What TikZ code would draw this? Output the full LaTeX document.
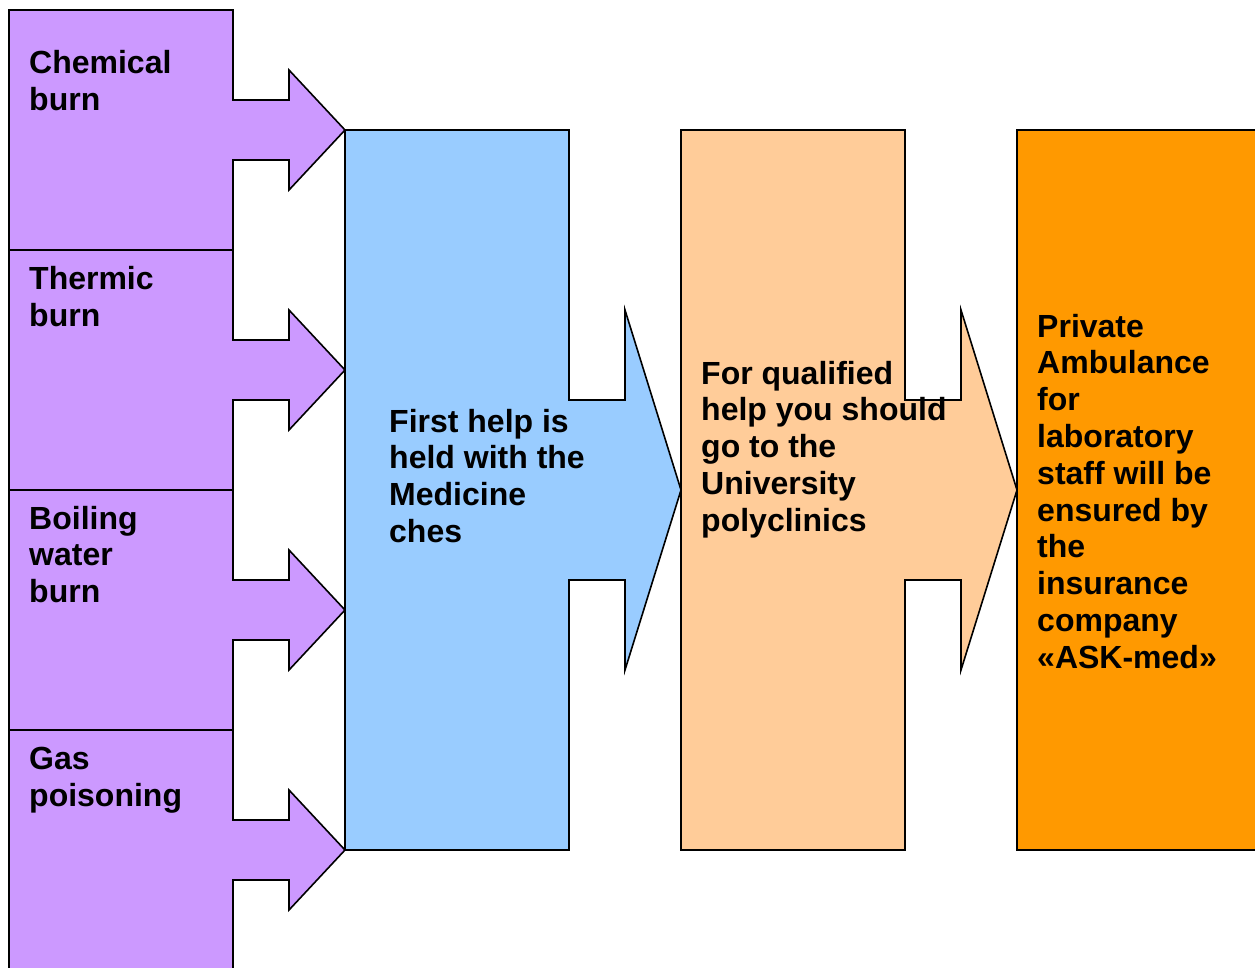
\documentclass[tikz,border=0pt]{standalone}
\usepackage{fontspec}
\setmainfont{Liberation Sans}
\definecolor{burnpurple}{HTML}{CC99FF}
\definecolor{helpblue}{HTML}{99CCFF}
\definecolor{qualpeach}{HTML}{FFCC99}
\definecolor{privorange}{HTML}{FF9900}
\tikzset{
  blockarrow/.style={draw=black, line width=1.6pt, line join=miter},
  % base of a multi-line node is its last line
  boxtext/.style={anchor=base west, inner sep=0pt, align=left,
    font=\fontsize{32}{36.8}\selectfont\bfseries}
}

\begin{document}
\begin{tikzpicture}[x=1pt,y=-1pt]
    \useasboundingbox (0,0) rectangle (1255,967);
    \clip (0,0) rectangle (1255,967);
    % four kinds of accident
    \foreach \t in {10,250,490,730} {
      \pgfmathsetmacro\ymid{\t+120}
      \draw[blockarrow, fill=burnpurple] (9,\t) -- (233,\t) -- (233,\ymid-30) -- (289,\ymid-30)
        -- (289,\ymid-60) -- (345,\ymid) -- (289,\ymid+60) -- (289,\ymid+30) -- (233,\ymid+30)
        -- (233,\t+240) -- (9,\t+240) -- cycle;
    }
    % first help
    \draw[blockarrow, fill=helpblue] (345,130) -- (569,130) -- (569,400) -- (625,400) -- (625,310)
      -- (681,490) -- (625,670) -- (625,580) -- (569,580) -- (569,850) -- (345,850) -- cycle;
    % qualified help
    \draw[blockarrow, fill=qualpeach] (681,130) -- (905,130) -- (905,400) -- (961,400) -- (961,310)
      -- (1017,490) -- (961,670) -- (961,580) -- (905,580) -- (905,850) -- (681,850) -- cycle;
    % ambulance
    \draw[blockarrow, fill=privorange] (1017,130) rectangle (1270,850);

    \node[boxtext] (chem)  at (29,110)   {Chemical\\burn};
    \node[boxtext] (therm) at (29,326)   {Thermic\\burn};
    \node[boxtext] (boil)  at (29,602.6) {Boiling\\water\\burn};
    \node[boxtext] (gas)   at (29,806)   {Gas\\poisoning};
    \node[boxtext] (first) at (389,542.4) {First help is\\held with the\\Medicine\\ches};
    \node[boxtext] (qual)  at (701,531.2) {For qualified\\help you should\\go to the\\University\\polyclinics};
    \node[boxtext] (priv)  at (1037,668.2) {Private\\Ambulance\\for\\laboratory\\staff will be\\ensured by\\the\\insurance\\company\\«ASK-med»};
\end{tikzpicture}
\end{document}
